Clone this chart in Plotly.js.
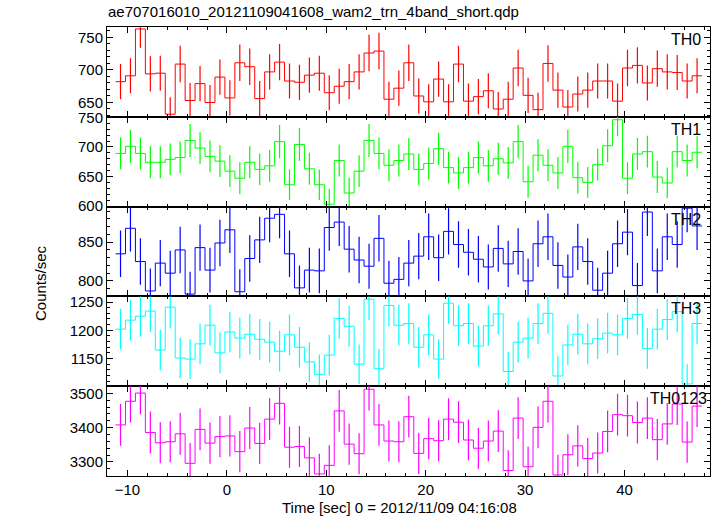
<!DOCTYPE html>
<html><head><meta charset="utf-8">
<script src="https://cdn.plot.ly/plotly-3.0.1.min.js"></script>
<style>html,body{margin:0;padding:0;background:#fff}#chart{width:717px;height:516px}</style>
</head><body><div id="chart"></div>
<script>
// ---- data ----
const time = [-10.7,-9.7,-8.7,-7.7,-6.7,-5.7,-4.7,-3.7,-2.7,-1.7,-0.7,0.3,1.3,2.3,3.3,4.3,5.3,6.3,7.3,8.3,9.3,10.3,11.3,12.3,13.3,14.3,15.3,16.3,17.3,18.3,19.3,20.3,21.3,22.3,23.3,24.3,25.3,26.3,27.3,28.3,29.3,30.3,31.3,32.3,33.3,34.3,35.3,36.3,37.3,38.3,39.3,40.3,41.3,42.3,43.3,44.3,45.3,46.3,47.3];
const binWidth = 1.0;

const th0 = [682,691,763,694,695,632,709,653,679,650,689,657,711,705,656,697,712,683,681,692,695,665,675,682,697,726,729,655,672,711,660,651,686,651,709,652,659,668,640,655,703,661,639,710,669,643,663,669,683,683,652,703,707,680,702,697,696,683,691];
const th0Err = [27,27,29,27,27,26,28,27,27,27,27,27,28,28,27,27,28,27,27,27,27,27,27,27,27,28,28,27,27,28,27,27,27,27,28,27,27,27,26,27,28,27,26,28,27,26,27,27,27,27,27,28,28,27,28,27,27,27,27];

const th1 = [689,701,689,674,674,679,682,711,698,684,676,659,647,674,662,668,709,636,704,663,636,603,677,622,659,711,689,669,677,688,662,672,697,665,656,665,682,668,680,673,709,641,686,669,656,701,648,640,670,702,746,647,688,692,649,639,692,677,691];
const th1Err = [27,28,27,27,27,27,27,28,27,27,27,27,27,27,27,27,28,26,28,27,26,26,27,26,27,28,27,27,27,27,27,27,27,27,27,27,27,27,27,27,28,27,27,27,27,28,27,26,27,28,28,27,27,27,27,26,27,27,27];

const th2 = [835,868,825,787,823,810,840,783,843,814,849,866,786,829,853,881,886,835,791,814,813,869,876,841,827,819,855,797,802,823,832,857,830,864,847,837,828,818,842,822,838,800,848,857,820,805,844,825,788,810,848,863,794,889,813,857,847,894,871];
const th2Err = [30,30,30,29,30,29,30,29,30,29,30,30,29,30,30,31,31,30,29,29,29,30,31,30,30,29,30,29,29,30,30,30,30,30,30,30,30,29,30,30,30,29,30,30,30,29,30,30,29,29,30,30,29,31,29,30,30,31,31];

const th3 = [1202,1218,1225,1234,1165,1241,1151,1149,1176,1209,1160,1197,1186,1193,1184,1179,1163,1192,1170,1144,1122,1156,1221,1207,1140,1255,1132,1244,1209,1212,1170,1192,1149,1248,1208,1212,1172,1208,1229,1127,1179,1186,1212,1230,1119,1174,1193,1176,1185,1195,1192,1221,1228,1168,1202,1219,1233,1105,1212];
const th3Err = [36,36,36,37,36,37,36,35,36,36,36,36,36,36,36,36,36,36,36,35,35,36,36,36,35,37,35,37,36,36,36,36,35,37,36,36,36,36,36,35,36,36,36,36,35,36,36,36,36,36,36,36,36,36,36,36,37,35,36];

const th0123 = [3408,3477,3501,3386,3356,3359,3382,3296,3395,3355,3374,3376,3330,3399,3354,3425,3471,3343,3345,3312,3265,3290,3449,3352,3324,3512,3408,3361,3359,3432,3325,3368,3362,3425,3416,3364,3340,3361,3390,3275,3428,3286,3401,3477,3262,3321,3347,3310,3326,3389,3438,3435,3415,3428,3365,3411,3469,3358,3463];
const th0123Err = [61,62,62,61,60,60,61,59,61,60,60,60,60,61,60,61,62,60,60,60,59,59,61,60,60,62,61,60,60,61,60,60,60,61,61,60,60,60,61,59,61,59,61,62,59,60,60,60,60,61,61,61,61,61,60,61,61,60,61];

const bandNames = ['TH0','TH1','TH2','TH3','TH0123'];
const bandValues = [th0, th1, th2, th3, th0123];
const bandErrors = [th0Err, th1Err, th2Err, th3Err, th0123Err];

// ---- styling ----
const colors = ['#ff0000','#00ff00','#0000ff','#00ffff','#ff00ff'];
const yRanges = [[628,766],[599,751],[780,896],[1101,1260],[3259,3521]];
const yDticks = [50,50,50,50,100];
const yMinor = [10,10,10,10,20];
const labelRight = [703,703,703,703,709];
const FONT = '"Liberation Sans", Arial, Helvetica, sans-serif';
const W = 717, H = 516, ML = 107, MR = 7, MT = 27, MB = 40;
const PW = W - ML - MR, PH = H - MT - MB;

const traces = [];
const layout = {
  width: W, height: H,
  margin: {l: ML, r: MR, t: MT, b: MB, pad: 0},
  paper_bgcolor: '#fff', plot_bgcolor: '#fff',
  showlegend: false,
  font: {family: FONT, size: 15, color: '#000'},
  title: {text: 'ae707016010_20121109041608_wam2_trn_4band_short.qdp',
          font: {family: FONT, size: 15, color: '#000'},
          xref: 'container', yref: 'container', x: 108 / W, xanchor: 'left',
          y: 1 - 12 / H, yanchor: 'middle'},
  annotations: []
};

const n = bandNames.length;
for (let i = 0; i < n; i++) {
  const ax = i === 0 ? '' : String(i + 1);
  const vals = bandValues[i];
  const edges = time.map(t => t - binWidth / 2).concat([time[time.length - 1] + binWidth / 2]);
  const stepY = vals.concat([vals[vals.length - 1]]);
  traces.push({
    type: 'scatter', mode: 'lines', x: edges, y: stepY,
    xaxis: 'x' + ax, yaxis: 'y' + ax,
    line: {shape: 'hv', color: colors[i], width: 1},
    hoverinfo: 'skip'
  });
  traces.push({
    type: 'scatter', mode: 'markers', x: time, y: vals,
    xaxis: 'x' + ax, yaxis: 'y' + ax,
    marker: {size: 0.1, color: colors[i]},
    error_y: {type: 'data', array: bandErrors[i], visible: true, color: colors[i], thickness: 1.2, width: 0}
  });
  const top = 1 - i / n, bot = 1 - (i + 1) / n;
  layout['xaxis' + ax] = {
    anchor: 'y' + ax, range: [-12.06, 48.6], matches: i === 0 ? undefined : 'x',
    showline: true, linecolor: '#000', linewidth: 1, mirror: 'allticks',
    ticks: 'inside', ticklen: 6, tickwidth: 1, tickcolor: '#000', tick0: 0, dtick: 10,
    minor: {dtick: 2, ticklen: 3, tickcolor: '#000', ticks: 'inside', tickwidth: 1, showgrid: false},
    showgrid: false, zeroline: false,
    showticklabels: i === n - 1,
    tickfont: {family: FONT, size: 15, color: '#000'}
  };
  layout['yaxis' + ax] = {
    anchor: 'x' + ax, domain: [bot, top], range: yRanges[i],
    showline: true, linecolor: '#000', linewidth: 1, mirror: 'allticks',
    ticks: 'inside', ticklen: 6, tickwidth: 1, tickcolor: '#000', tick0: 0, dtick: yDticks[i],
    minor: {dtick: yMinor[i], ticklen: 3, tickcolor: '#000', ticks: 'inside', tickwidth: 1, showgrid: false},
    showgrid: false, zeroline: false,
    tickfont: {family: FONT, size: 15, color: '#000'}
  };
  layout.annotations.push({
    text: bandNames[i], showarrow: false,
    xref: 'paper', x: (labelRight[i] - ML) / PW, xanchor: 'right',
    yref: 'y' + ax + ' domain', y: 1, yanchor: 'top', yshift: -2,
    font: {family: FONT, size: 16, color: '#000'}
  });
}
layout.annotations.push({
  text: 'Counts/sec', showarrow: false, textangle: -90,
  xref: 'paper', x: (40 - ML) / PW, xanchor: 'center',
  yref: 'paper', y: (H - MB - 283) / PH, yanchor: 'middle',
  font: {family: FONT, size: 15, color: '#000'}
});
layout.annotations.push({
  text: 'Time [sec] 0 = 2012/11/09 04:16:08', showarrow: false,
  xref: 'paper', x: (399 - ML) / PW, xanchor: 'center',
  yref: 'paper', y: -(507 - (H - MB)) / PH, yanchor: 'middle',
  font: {family: FONT, size: 15, color: '#000'}
});

Plotly.newPlot('chart', traces, layout, {displayModeBar: false, staticPlot: true});
</script></body></html>
